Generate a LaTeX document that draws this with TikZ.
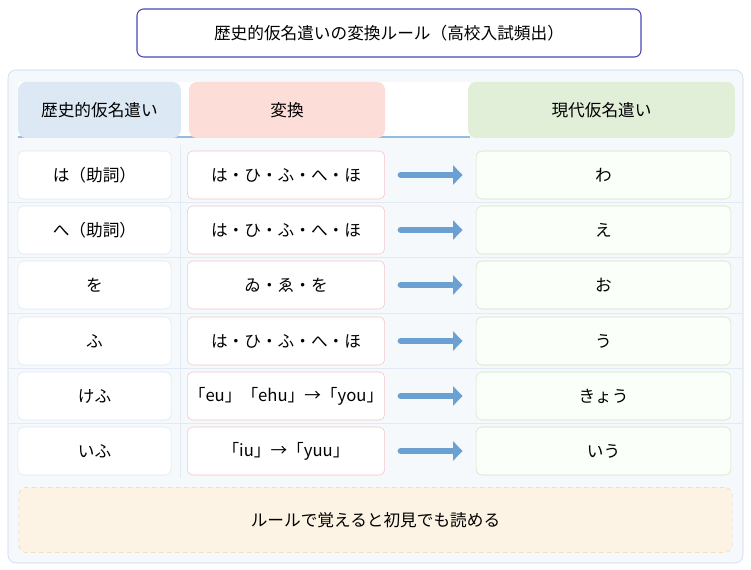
\documentclass[tikz,border=0pt]{standalone}
\usepackage{fontspec}
\setmainfont{Noto Sans CJK JP}
\usetikzlibrary{positioning,arrows.meta}
\definecolor{panelbg}{HTML}{F6F9FC}
\definecolor{panelline}{HTML}{C5D7EA}
\definecolor{oldfill}{HTML}{DCE8F4}
\definecolor{convfill}{HTML}{FCDDD8}
\definecolor{newfill}{HTML}{E1EED8}
\definecolor{convline}{HTML}{F2C4CB}
\definecolor{newline}{HTML}{D2E2C4}
\definecolor{arrowblue}{HTML}{6C9FD2}
\definecolor{notefill}{HTML}{FDF3E4}
\definecolor{noteline}{HTML}{F1D3A8}
\tikzset{
  cell/.style={rounded corners=4pt,minimum height=36pt,inner xsep=1pt,font=\fontsize{12.5}{14}\selectfont},
  old/.style={cell,draw=panelline!60,fill=white,minimum width=115pt},
  conv/.style={cell,draw=convline,fill=white,minimum width=148pt},
  new/.style={cell,draw=newline,fill=green!2,minimum width=191pt},
  head/.style={rounded corners=6pt,minimum height=42pt,font=\fontsize{12.5}{14}\selectfont},
  conn/.style={-{Triangle[length=7pt,width=14pt]},line width=5pt,arrowblue,line cap=round},
}
\begin{document}
\begin{tikzpicture}[x=0.75pt,y=-0.75pt]
  \useasboundingbox (0,0) rectangle (751,570);
  % title
  \node[draw=blue!45!gray,line width=0.8pt,rounded corners=5pt,fill=white,
        minimum width=378pt,minimum height=36pt,font=\fontsize{12.5}{14}\selectfont]
        (title) at (389,33) {歴史的仮名遣いの変換ルール（高校入試頻出）};
  % panel
  \draw[panelline,fill=panelbg,rounded corners=6pt] (8,70) rectangle (743,563);
  \fill[white] (18,82) rectangle (470,137);
  \draw[arrowblue!70,line width=0.8pt] (18,137) -- (470,137);
  \node[head,fill=oldfill,minimum width=122pt] (hold) at (99.5,110) {歴史的仮名遣い};
  \node[head,fill=convfill,minimum width=147pt] (hconv) at (287,110) {変換};
  \node[head,fill=newfill,minimum width=200pt] (hnew) at (601.5,110) {現代仮名遣い};
  \draw[panelline!50] (180,145) -- (180,478);
  \foreach \y in {202,257,313,368,423} \draw[panelline!50] (8,\y) -- (743,\y);
  % rows
  \foreach \i/\y/\a/\b/\c in {
      1/175/は（助詞）/は・ひ・ふ・へ・ほ/わ,
      2/230/へ（助詞）/は・ひ・ふ・へ・ほ/え,
      3/285/を/ゐ・ゑ・を/お,
      4/341/ふ/は・ひ・ふ・へ・ほ/う,
      5/396/けふ/「eu」「ehu」→「you」/きょう,
      6/451/いふ/「iu」→「yuu」/いう} {
    \node[old] (o\i) at (94.5,\y) {\a};
    \node[conv] (v\i) at (286,\y) {\b};
    \node[new] (n\i) at (603.5,\y) {\c};
    \draw[conn] ([xshift=12pt]v\i.east) -- ([xshift=-10pt]n\i.west);
  }
  % note
  \node[draw=noteline,dashed,fill=notefill,rounded corners=6pt,minimum width=535pt,
        minimum height=49pt,font=\fontsize{12.5}{14}\selectfont] (note) at (375.5,520)
        {ルールで覚えると初見でも読める};
\end{tikzpicture}
\end{document}
